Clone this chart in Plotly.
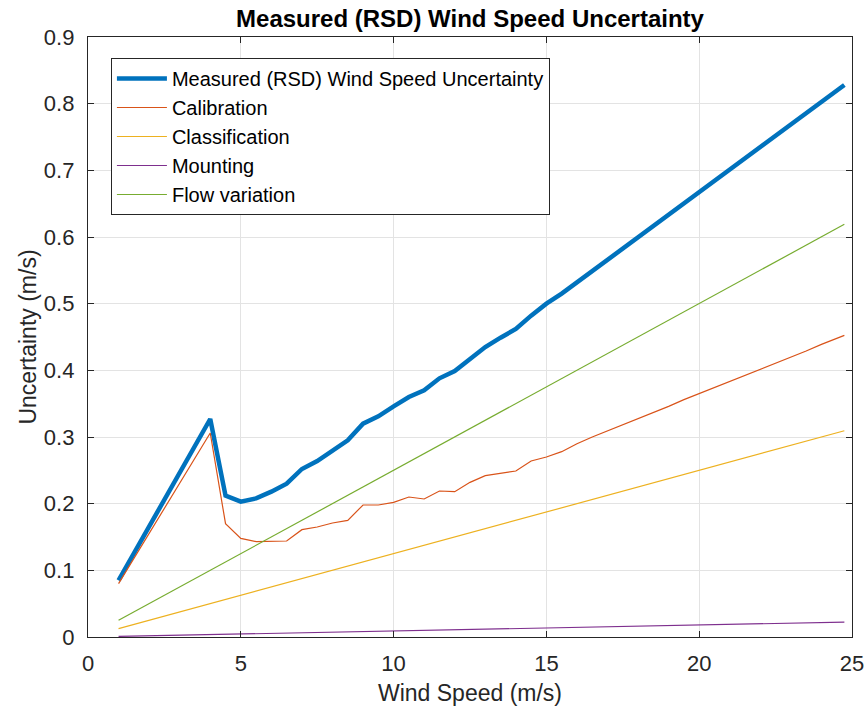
import plotly.graph_objects as go

wind_speed = [1, 4, 4.5, 5, 5.5, 6, 6.5, 7, 7.5, 8, 8.5, 9, 9.5, 10, 10.5, 11, 11.5, 12,
              12.5, 13, 13.5, 14, 14.5, 15, 15.5, 16, 16.5, 17, 17.5, 18, 18.5, 19, 19.5,
              20, 20.5, 21, 21.5, 22, 22.5, 23, 23.5, 24, 24.5, 24.75]

measured = [0.085, 0.327, 0.212, 0.203, 0.208, 0.218, 0.230, 0.252, 0.264, 0.279, 0.295,
            0.320, 0.331, 0.346, 0.360, 0.370, 0.388, 0.399, 0.418, 0.435, 0.449, 0.462,
            0.482, 0.500, 0.515, 0.532, 0.548, 0.566, 0.583, 0.600, 0.617, 0.634, 0.651,
            0.668, 0.685, 0.702, 0.719, 0.736, 0.753, 0.770, 0.787, 0.804, 0.820, 0.828]

calibration = [0.080, 0.306, 0.170, 0.148, 0.143, 0.143, 0.144, 0.161, 0.165, 0.171, 0.175,
               0.198, 0.198, 0.202, 0.210, 0.207, 0.219, 0.218, 0.232, 0.242, 0.245, 0.249,
               0.264, 0.270, 0.278, 0.290, 0.300, 0.309, 0.318, 0.328, 0.337, 0.346, 0.356,
               0.365, 0.374, 0.383, 0.392, 0.402, 0.411, 0.420, 0.429, 0.439, 0.448, 0.4525]

classification = [0.0125, 0.050, 0.0563, 0.0625, 0.0688, 0.075, 0.0813, 0.0875, 0.0938,
                  0.100, 0.1063, 0.1125, 0.1188, 0.125, 0.1313, 0.1375, 0.1438, 0.150,
                  0.1563, 0.1625, 0.1688, 0.175, 0.1813, 0.1875, 0.1938, 0.200, 0.2063,
                  0.2125, 0.2188, 0.225, 0.2313, 0.2375, 0.2438, 0.250, 0.2563, 0.2625,
                  0.2688, 0.275, 0.2813, 0.2875, 0.2938, 0.300, 0.3063, 0.3094]

mounting = [0.0009, 0.0036, 0.0041, 0.0045, 0.0050, 0.0054, 0.0059, 0.0063, 0.0068, 0.0072,
            0.0077, 0.0081, 0.0086, 0.0090, 0.0095, 0.0099, 0.0104, 0.0108, 0.0113, 0.0117,
            0.0122, 0.0126, 0.0131, 0.0135, 0.0140, 0.0144, 0.0149, 0.0153, 0.0158, 0.0162,
            0.0167, 0.0171, 0.0176, 0.0180, 0.0185, 0.0189, 0.0194, 0.0198, 0.0203, 0.0207,
            0.0212, 0.0216, 0.0221, 0.0223]

flow_variation = [0.025, 0.100, 0.1125, 0.125, 0.1375, 0.150, 0.1625, 0.175, 0.1875, 0.200,
                  0.2125, 0.225, 0.2375, 0.250, 0.2625, 0.275, 0.2875, 0.300, 0.3125, 0.325,
                  0.3375, 0.350, 0.3625, 0.375, 0.3875, 0.400, 0.4125, 0.425, 0.4375, 0.450,
                  0.4625, 0.475, 0.4875, 0.500, 0.5125, 0.525, 0.5375, 0.550, 0.5625, 0.575,
                  0.5875, 0.600, 0.6125, 0.619]

x_ticks = [0, 5, 10, 15, 20, 25]
y_ticks = [0, 0.1, 0.2, 0.3, 0.4, 0.5, 0.6, 0.7, 0.8, 0.9]
y_tick_labels = ["0", "0.1", "0.2", "0.3", "0.4", "0.5", "0.6", "0.7", "0.8", "0.9"]

series = [
    ("Measured (RSD) Wind Speed Uncertainty", measured, "#0072BD", 4.5),
    ("Calibration", calibration, "#D95319", 1.2),
    ("Classification", classification, "#EDB120", 1.2),
    ("Mounting", mounting, "#7E2F8E", 1.2),
    ("Flow variation", flow_variation, "#77AC30", 1.2),
]

FAM = "Liberation Sans, Arial, sans-serif"

fig = go.Figure()
for name, vals, color, width in series:
    fig.add_trace(go.Scatter(x=wind_speed, y=vals, mode="lines", name=name,
                             line=dict(color=color, width=width)))

tick_font = dict(family=FAM, size=22, color="#262626")
title_font = dict(family=FAM, size=23, color="#262626")

fig.update_layout(
    width=867, height=714,
    margin=dict(l=88, r=15, t=37, b=77, autoexpand=False),
    paper_bgcolor="white", plot_bgcolor="white",
    title=dict(text="<b>Measured (RSD) Wind Speed Uncertainty</b>",
               x=(88 + 852) / 2 / 867, xanchor="center", y=1 - 19 / 714, yanchor="middle",
               font=dict(family=FAM, size=24, color="black")),
    font=tick_font,
    legend=dict(x=0.030, y=0.965, xanchor="left", yanchor="top",
                bgcolor="white", bordercolor="#262626", borderwidth=1,
                font=dict(family=FAM, size=20, color="black"),
                tracegroupgap=0, itemwidth=50),
    showlegend=True,
)

fig.update_xaxes(range=[0, 25], tickvals=x_ticks, ticktext=[str(v) for v in x_ticks],
                 showgrid=True, gridcolor="#e3e3e3", gridwidth=1,
                 showline=True, linecolor="#262626", linewidth=1.3, mirror="ticks",
                 ticks="inside", ticklen=6, tickcolor="#262626", ticklabelstandoff=6,
                 zeroline=False, tickfont=tick_font, automargin=False,
                 title=dict(text="Wind Speed (m/s)", font=title_font, standoff=10))
fig.update_yaxes(range=[0, 0.9], tickvals=y_ticks, ticktext=y_tick_labels,
                 showgrid=True, gridcolor="#e3e3e3", gridwidth=1,
                 showline=True, linecolor="#262626", linewidth=1.3, mirror="ticks",
                 ticks="inside", ticklen=6, tickcolor="#262626", ticklabelstandoff=8,
                 zeroline=False, tickfont=tick_font, automargin=False,
                 title=dict(text="Uncertainty (m/s)", font=title_font, standoff=0))

fig.write_html("out.html")
